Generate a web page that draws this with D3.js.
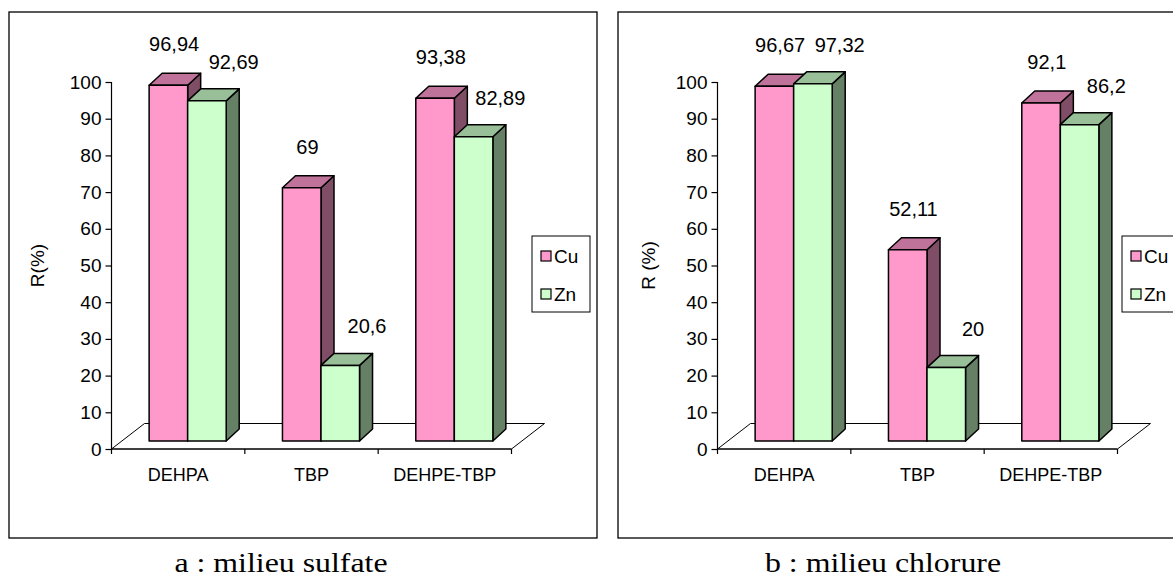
<!DOCTYPE html>
<html>
<head>
<meta charset="utf-8">
<script src="https://cdn.jsdelivr.net/npm/d3@7"></script>
<style>
  html, body { margin: 0; padding: 0; background: #fff; }
  svg { display: block; }
</style>
</head>
<body>
<script>
// ---------- data ----------
const categories = ["DEHPA", "TBP", "DEHPE-TBP"];
const seriesNames = ["Cu", "Zn"];
const sulfateCu = [96.94, 69, 93.38];
const sulfateZn = [92.69, 20.6, 82.89];
const chlorureCu = [96.67, 52.11, 92.1];
const chlorureZn = [97.32, 20, 86.2];
const yTicks = [0, 10, 20, 30, 40, 50, 60, 70, 80, 90, 100];
const axisTitles = ["R(%)", "R (%)"];
const captions = ["a : milieu sulfate", "b : milieu chlorure"];

// ---------- layout ----------
const W = 1173, H = 580;
const SANS = "'Liberation Sans', Arial, sans-serif";
const SERIF = "'Liberation Serif', 'Times New Roman', serif";
const colors = {
  Cu: { front: "#FF99CC", top: "#C0739A", side: "#804D66" },
  Zn: { front: "#CCFFCC", top: "#99BF99", side: "#668066" }
};
const panels = [
  { values: { Cu: sulfateCu, Zn: sulfateZn }, title: axisTitles[0], caption: captions[0],
    frameX: 9, axisX: 111.5, titleX: 37, legendX: 532, captionX: 281 },
  { values: { Cu: chlorureCu, Zn: chlorureZn }, title: axisTitles[1], caption: captions[1],
    frameX: 618, axisX: 717.5, titleX: 648, legendX: 1122, captionX: 883 }
];
const frameY = 12, frameW = 588, frameH = 526;
const plotW = 400;
const floorDepth = [33, -25.5];
const barFront = [9.5, -8];
const barDepth = [13, -12];
const labelOffset = { Cu: [25, -41], Zn: [46, -39] };

const svg = d3.select("body").append("svg").attr("width", W).attr("height", H);

const y = d3.scaleLinear().domain([0, 100]).range([449, 82]);
const poly = pts => "M" + pts.map(p => p.join(",")).join("L") + "Z";
const fmt = v => String(v).replace(".", ",");

panels.forEach(p => {
  const g = svg.append("g");

  // frame
  g.append("rect").attr("x", p.frameX).attr("y", frameY)
    .attr("width", frameW).attr("height", frameH)
    .attr("fill", "#fff").attr("stroke", "#000").attr("stroke-width", 1.3);

  const x = d3.scaleBand().domain(categories).range([p.axisX, p.axisX + plotW]);
  const xs = d3.scaleBand().domain(seriesNames).range([0, x.bandwidth()]).paddingOuter(0.73);
  const y0 = y(0);

  // floor
  g.append("path")
    .attr("d", poly([[p.axisX, y0], [p.axisX + plotW, y0],
      [p.axisX + plotW + floorDepth[0], y0 + floorDepth[1]],
      [p.axisX + floorDepth[0], y0 + floorDepth[1]]]))
    .attr("fill", "#fff").attr("stroke", "#000").attr("stroke-width", 1);

  // bars
  categories.forEach((c, i) => {
    seriesNames.forEach(s => {
      const v = p.values[s][i];
      const xl = x(c) + xs(s) + barFront[0];
      const xr = xl + xs.bandwidth();
      const yb = y0 + barFront[1];
      const yt = y(v) + barFront[1];
      const [dx, dy] = barDepth;
      const bg = g.append("g").attr("stroke", "#000").attr("stroke-width", 1.5)
        .attr("stroke-linejoin", "round");
      bg.append("path").attr("d", poly([[xr, yb], [xr + dx, yb + dy], [xr + dx, yt + dy], [xr, yt]]))
        .attr("fill", colors[s].side);
      bg.append("path").attr("d", poly([[xl, yt], [xr, yt], [xr + dx, yt + dy], [xl + dx, yt + dy]]))
        .attr("fill", colors[s].top);
      bg.append("path").attr("d", poly([[xl, yb], [xr, yb], [xr, yt], [xl, yt]]))
        .attr("fill", colors[s].front);
    });
  });

  // data labels
  categories.forEach((c, i) => {
    seriesNames.forEach(s => {
      const v = p.values[s][i];
      const xl = x(c) + xs(s) + barFront[0];
      const yt = y(v) + barFront[1];
      g.append("text")
        .attr("x", xl + labelOffset[s][0]).attr("y", yt + labelOffset[s][1])
        .attr("text-anchor", "middle").attr("dominant-baseline", "central")
        .attr("font-family", SANS).attr("font-size", 20).attr("fill", "#000")
        .text(fmt(v));
    });
  });

  // y axis
  const yAxis = g.append("g").attr("transform", `translate(${p.axisX},0)`)
    .call(d3.axisLeft(y).tickValues(yTicks).tickSize(6).tickPadding(4).tickFormat(d3.format("d")));
  yAxis.select(".domain").attr("stroke", "#000").attr("stroke-width", 1.2).attr("d", `M0,${y(0)}V${y(100)}`);
  yAxis.selectAll(".tick line").attr("stroke", "#000").attr("stroke-width", 1.2);
  yAxis.selectAll(".tick text").attr("font-family", SANS).attr("font-size", 19).attr("fill", "#000");

  // x axis
  const xAxis = g.append("g").attr("transform", `translate(0,${y0})`)
    .call(d3.axisBottom(x).tickSize(0).tickPadding(19));
  xAxis.select(".domain").attr("stroke", "#000").attr("stroke-width", 1.2)
    .attr("d", `M${p.axisX},0H${p.axisX + plotW}`);
  xAxis.selectAll(".tick text").attr("font-family", SANS).attr("font-size", 18).attr("fill", "#000");
  const edges = categories.map(c => x(c)).concat([p.axisX + plotW]);
  xAxis.selectAll("line.edge").data(edges).enter().append("line")
    .attr("class", "edge").attr("x1", d => d).attr("x2", d => d)
    .attr("y1", 0).attr("y2", 5).attr("stroke", "#000").attr("stroke-width", 1.2);

  // axis title
  g.append("text")
    .attr("transform", `translate(${p.titleX},${(y(0) + y(100)) / 2}) rotate(-90)`)
    .attr("text-anchor", "middle").attr("dominant-baseline", "central")
    .attr("font-family", SANS).attr("font-size", 19).attr("fill", "#000")
    .text(p.title);

  // legend
  const lg = g.append("g").attr("transform", `translate(${p.legendX},236)`);
  lg.append("rect").attr("width", 58).attr("height", 76)
    .attr("fill", "#fff").attr("stroke", "#000").attr("stroke-width", 1);
  seriesNames.forEach((s, k) => {
    lg.append("rect").attr("x", 9).attr("y", 15 + k * 38).attr("width", 10).attr("height", 10)
      .attr("fill", colors[s].front).attr("stroke", "#000").attr("stroke-width", 1.2);
    lg.append("text").attr("x", 22).attr("y", 20 + k * 38)
      .attr("dominant-baseline", "central")
      .attr("font-family", SANS).attr("font-size", 19).attr("fill", "#000").text(s);
  });

  // caption
  svg.append("text")
    .attr("transform", `translate(${p.captionX},572) scale(1.18,1)`)
    .attr("text-anchor", "middle")
    .attr("font-family", SERIF).attr("font-size", 27).attr("fill", "#000")
    .text(p.caption);
});
</script>
</body>
</html>
